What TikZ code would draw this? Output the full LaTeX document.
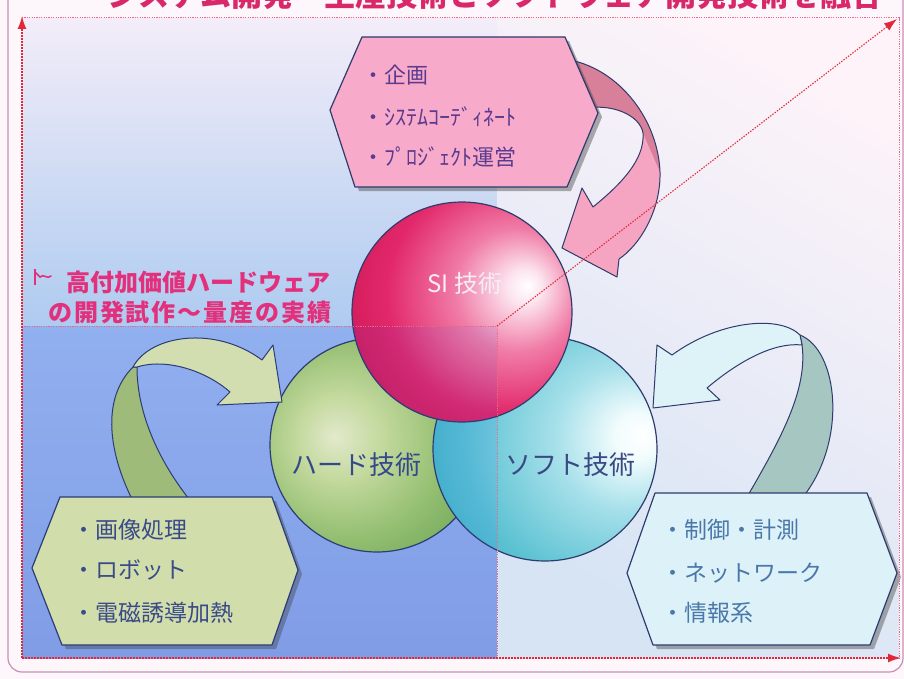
\documentclass[tikz,border=0pt]{standalone}
\usepackage{fontspec}
\newfontfamily\jp{Noto Sans CJK JP}
\usetikzlibrary{arrows.meta,shadows}
\definecolor{pagebg}{HTML}{FDF6FA}
\definecolor{framec}{HTML}{C890B4}
\definecolor{axisred}{HTML}{E02838}
\definecolor{axislight}{HTML}{E86A86}
\definecolor{outl}{HTML}{2F3B6C}
\definecolor{titlec}{HTML}{D8286A}
\definecolor{redtxt}{HTML}{E2307C}
\definecolor{pinkhex}{HTML}{F7AACA}
\definecolor{pinktxt}{HTML}{5B3B8E}
\definecolor{pinkarr}{HTML}{F5A5C2}
\definecolor{pinkarrd}{HTML}{D88099}
\definecolor{greenhex}{HTML}{E2E9A6}
\definecolor{greentxt}{HTML}{3F4B7E}
\definecolor{greenarr}{HTML}{E3EAA9}
\definecolor{greenarrd}{HTML}{AAC470}
\definecolor{cyanhex}{HTML}{DDF2F8}
\definecolor{cyantxt}{HTML}{4A78AA}
\definecolor{cyanarr}{HTML}{DDF3F7}
\definecolor{cyanarrd}{HTML}{A6C6C2}
\definecolor{sitxt}{HTML}{F6EEF6}
\definecolor{spheretxt}{HTML}{3A4884}
\definecolor{ulTop}{HTML}{F3EDF8}
\definecolor{ulBot}{HTML}{AECBF0}
\definecolor{llTop}{HTML}{9DB8EE}
\definecolor{llBot}{HTML}{8AA3E5}
\definecolor{rTop}{HTML}{FDF3F9}
\definecolor{rBot}{HTML}{D6E4F4}
\definecolor{siA}{HTML}{FCE4EE}
\definecolor{siB}{HTML}{F07CA6}
\definecolor{siC}{HTML}{E2286A}
\definecolor{siD}{HTML}{C3104E}
\definecolor{siE}{HTML}{A00A40}
\definecolor{grA}{HTML}{F4F6C8}
\definecolor{grB}{HTML}{D2E496}
\definecolor{grC}{HTML}{9CC664}
\definecolor{grD}{HTML}{6CA644}
\definecolor{grE}{HTML}{558E34}
\definecolor{cyA}{HTML}{F2FCFD}
\definecolor{cyB}{HTML}{A6E0EA}
\definecolor{cyC}{HTML}{5CC2D2}
\definecolor{cyD}{HTML}{2AA2B8}
\definecolor{cyE}{HTML}{1A86A0}
\pgfdeclareradialshading{sishade}{\pgfpoint{15bp}{6bp}}{color(0bp)=(white); color(4bp)=(siA); color(14bp)=(siB); color(27bp)=(siC); color(44bp)=(siD); color(62bp)=(siE); color(80bp)=(siE)}
\pgfdeclareradialshading{grshade}{\pgfpoint{-10bp}{2bp}}{color(0bp)=(grA); color(10bp)=(grB); color(24bp)=(grC); color(40bp)=(grD); color(56bp)=(grE); color(80bp)=(grE)}
\pgfdeclareradialshading{cyshade}{\pgfpoint{22bp}{3bp}}{color(0bp)=(white); color(5bp)=(cyA); color(16bp)=(cyB); color(32bp)=(cyC); color(50bp)=(cyD); color(68bp)=(cyE); color(90bp)=(cyE)}
\tikzset{
  hexshape/.style={draw=outl, line width=1.2pt, line join=round,
    drop shadow={shadow xshift=4pt, shadow yshift=-4pt, opacity=0.45, fill=black!70}},
  arrowshape/.style={draw=outl, line width=1pt, line join=round},
  sphere/.style={circle, inner sep=0pt, minimum size=#1, draw=outl, line width=1.2pt, shade},
  bigaxis/.style={draw=axisred, line width=1.6pt, dash pattern=on 1.6pt off 1.4pt},
  diagaxis/.style={draw=axisred, line width=1.1pt, dash pattern=on 1.4pt off 1.4pt},
  thinaxis/.style={draw=axislight, line width=1pt, dash pattern=on 1.2pt off 1.2pt},
  axtip/.style={-{Latex[length=13pt,width=9pt]}},
  hexitem/.style={anchor=west, inner sep=0pt, font=\jp\fontsize{23}{23}\selectfont},
  pinkitem/.style={anchor=west, inner sep=0pt, text=pinktxt, font=\jp\fontsize{22}{22}\selectfont},
  balllabel/.style={inner sep=0pt, font=\jp\fontsize{26}{26}\selectfont, text=spheretxt},
  redline/.style={anchor=west, inner sep=0pt, text=redtxt, font=\jp\bfseries\fontsize{24}{24}\selectfont},
}
\begin{document}
\begin{tikzpicture}[x=1pt,y=-1pt]
\useasboundingbox (0,0) rectangle (904,679);
\begin{scope}
\clip (0,0) rectangle (904,679);
% page and frame
\fill[pagebg] (0,0) rectangle (904,679);
\draw[framec, line width=1.2pt, rounded corners=14pt] (8,-30) rectangle (903,672);
% cut-off title (cut by the top edge, as in the reference)
\node[anchor=base, inner sep=0pt, text=titlec, font=\jp\bfseries\fontsize{31}{31}\selectfont] (title) at (495,7) {システム開発・生産技術とソフトウェア開発技術を融合};
% coordinates of the frame
\coordinate (TL) at (22,18);
\coordinate (TR) at (899,18);
\coordinate (O) at (22,658);
\coordinate (Ytop) at (22,16);
\coordinate (Xend) at (901,658);
\coordinate (BR) at (899,658);
\coordinate (C) at (497,326);
\coordinate (CL) at (22,326);
\coordinate (CB) at (497,658);
\coordinate (CT) at (497,18);
\coordinate (D) at (897,19);
% background regions
\shade[top color=ulTop, bottom color=ulBot] (TL) rectangle (C);
\shade[top color=llTop, bottom color=llBot] (CL) rectangle (CB);
\shade[top color=rTop, bottom color=rBot, shading angle=-30] (CT) rectangle (BR);
% spheres
\node[sphere=214pt, shading=grshade] (hard) at (377,445) {};
\node[sphere=224pt, shading=cyshade] (soft) at (545,449) {};
\node[sphere=220pt, shading=sishade] (si) at (462,312) {};
\node[balllabel, text=sitxt, font=\jp\fontsize{24}{24}\selectfont] (silab) at (465,283) {SI 技術};
\node[balllabel] (hardlab) at (356,465) {ハード技術};
\node[balllabel] (softlab) at (570,465) {ソフト技術};
% pink arrow
\path[fill=pinkarr] (570,60) .. controls (620,70) and (658,120) .. (660,172)
  .. controls (661,210) and (640,245) .. (619,259) -- (617,277) -- (562,248) -- (582,188) -- (593,207)
  .. controls (620,185) and (645,160) .. (643,133) .. controls (640,115) and (612,104) .. (588,108) -- cycle;
\begin{scope}
  \clip (570,60) .. controls (620,70) and (658,120) .. (660,172) -- (643,133)
    .. controls (640,115) and (612,104) .. (588,108) -- cycle;
  \fill[pinkarrd] (560,40) rectangle (700,200);
\end{scope}
\draw[arrowshape] (570,60) .. controls (620,70) and (658,120) .. (660,172)
  .. controls (661,210) and (640,245) .. (619,259) -- (617,277) -- (562,248) -- (582,188) -- (593,207)
  .. controls (620,185) and (645,160) .. (643,133) .. controls (640,115) and (612,104) .. (588,108);
% green arrow
\filldraw[arrowshape, fill=greenarrd] (132,499) .. controls (110,455) and (100,400) .. (133,367)
  -- (137,367) .. controls (137,415) and (160,462) .. (189,499) -- cycle;
\filldraw[arrowshape, fill=greenarr] (133,367) .. controls (150,335) and (215,325) .. (262,360)
  -- (273,345) -- (282,402) -- (217,405) -- (230,392)
  .. controls (205,370) and (165,358) .. (137,367) -- cycle;
% cyan arrow
\filldraw[arrowshape, fill=cyanarrd] (747,497) .. controls (780,440) and (808,390) .. (802,345)
  -- (800,335) .. controls (838,350) and (848,440) .. (803,497) -- cycle;
\filldraw[arrowshape, fill=cyanarr] (800,335) .. controls (780,315) and (720,320) .. (672,355)
  -- (657,345) -- (653,408) -- (720,400) -- (707,388)
  .. controls (740,360) and (775,342) .. (802,345) -- cycle;
% hexagons
\path[hexshape, fill=pinkhex] (362,37) -- (565,37) -- (598,113) -- (567,187) -- (355,187) -- (330,110) -- cycle;
\path[hexshape, fill=greenhex] (60,497) -- (272,497) -- (298,570) -- (272,645) -- (62,645) -- (32,568) -- cycle;
\path[hexshape, fill=cyanhex] (655,493) -- (867,493) -- (897,573) -- (870,645) -- (653,645) -- (627,573) -- cycle;
% hexagon texts
\node[pinkitem] (pk1) at (362,75) {・企画};
\node[pinkitem] (pk2) at (362,117) {・ｼｽﾃﾑｺｰﾃﾞｨﾈｰﾄ};
\node[pinkitem] (pk3) at (362,157) {・ﾌﾟﾛｼﾞｪｸﾄ運営};
\node[hexitem, text=greentxt] (gr1) at (72,530) {・画像処理};
\node[hexitem, text=greentxt] (gr2) at (72,570) {・ロボット};
\node[hexitem, text=greentxt] (gr3) at (72,613) {・電磁誘導加熱};
\node[hexitem, text=cyantxt] (cy1) at (661,530) {・制御・計測};
\node[hexitem, text=cyantxt] (cy2) at (661,573) {・ネットワーク};
\node[hexitem, text=cyantxt] (cy3) at (661,613) {・情報系};
% red remark with flag mark
\draw[redtxt, line width=1.6pt] (35,269) -- (35,285);
\draw[redtxt, line width=1.6pt, line cap=round] (35,272) -- (40,277) .. controls (44,273) and (47,280) .. (51,276);
\node[redline] (hv1) at (66,282) {高付加価値ハードウェア};
\node[redline, font=\jp\bfseries\fontsize{24}{24}\selectfont\addfontfeatures{LetterSpace=8}] (hv2) at (48,312) {の開発試作～量産の実績};
% halftone tint of the lower-left quadrant
\fill[blue!70!cyan, opacity=0.07] (CL) rectangle (CB);
% axes and guide lines
\draw[thinaxis] (TL) -- (TR) -- (BR);
\draw[thinaxis] (CL) -- (C) -- (CB);
\draw[diagaxis, axtip] (C) -- (D);
\draw[bigaxis, axtip] (O) -- (Ytop);
\draw[bigaxis, axtip] (O) -- (Xend);
\end{scope}
\end{tikzpicture}
\end{document}
